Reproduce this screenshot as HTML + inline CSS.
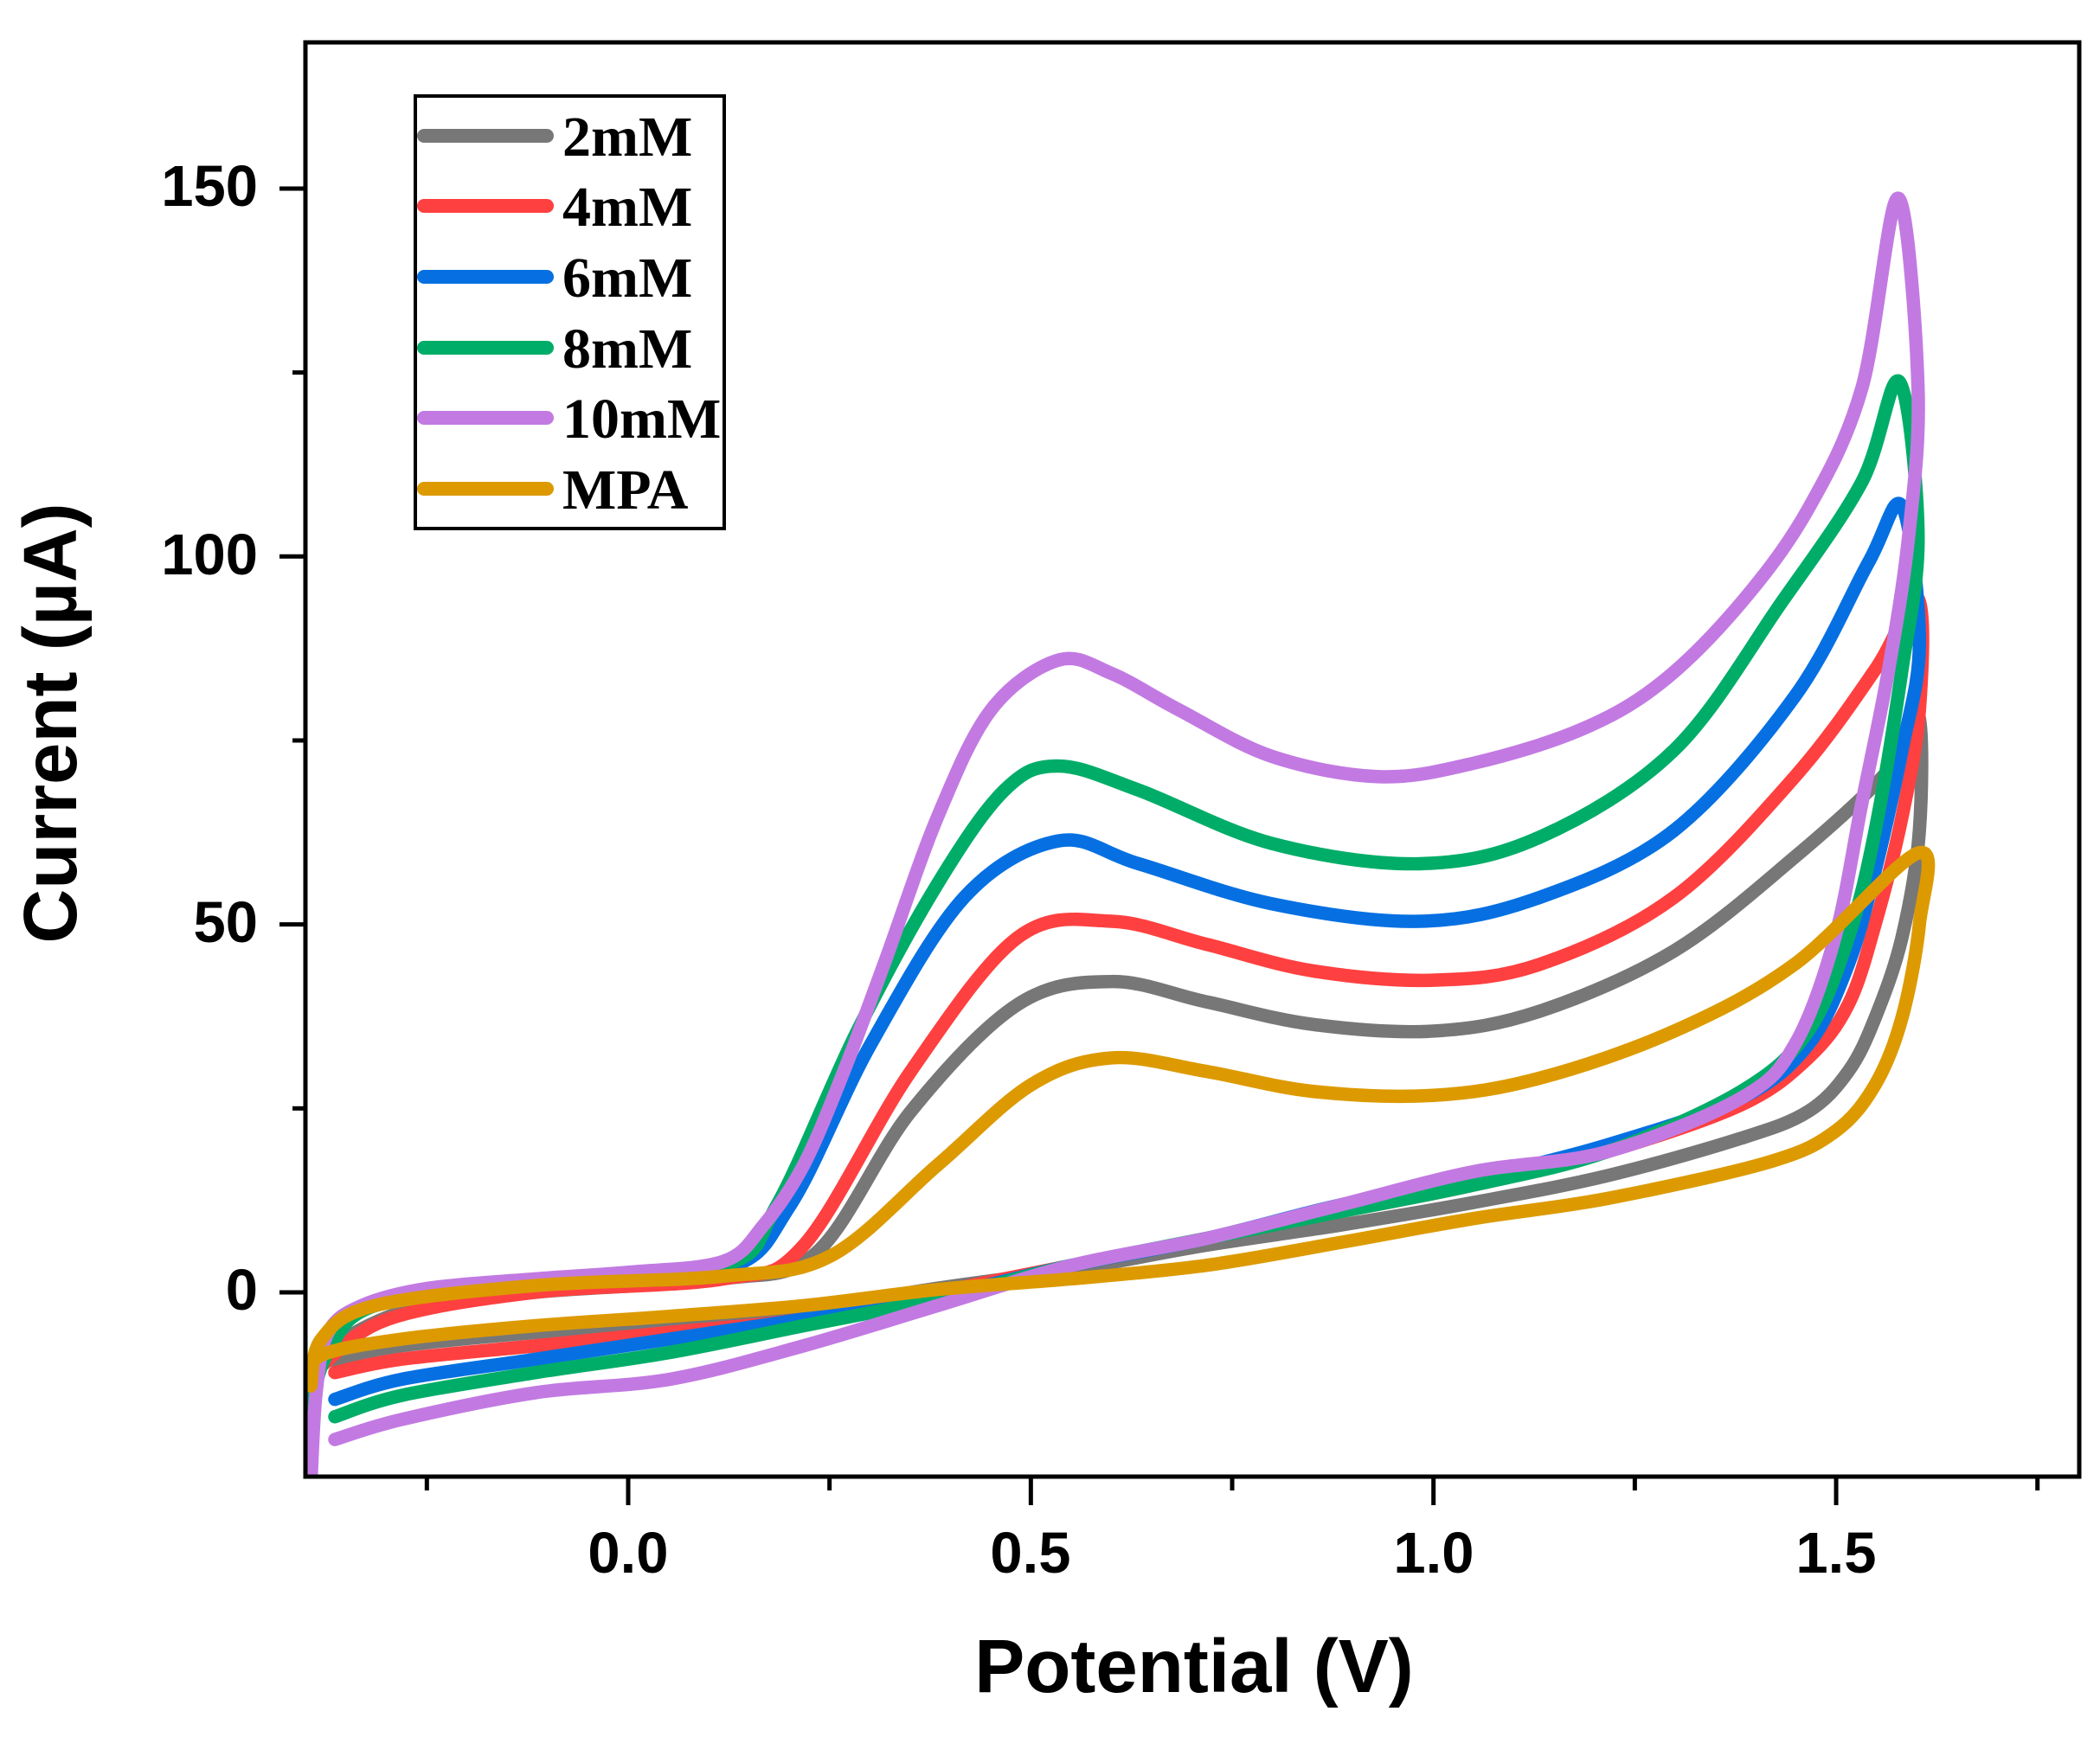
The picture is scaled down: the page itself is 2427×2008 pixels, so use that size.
<!DOCTYPE html>
<html><head><meta charset="utf-8"><style>
html,body{margin:0;padding:0;background:#fff}
svg{display:block}
.t{font-family:"Liberation Sans",Arial,sans-serif;font-weight:bold;fill:#000}
.l{font-family:"Liberation Serif","Times New Roman",serif;font-weight:bold;fill:#000;font-size:66px}
</style></head><body>
<svg id="s" width="2427" height="2008" viewBox="0 0 2427 2008" xmlns="http://www.w3.org/2000/svg">
<defs><clipPath id="c"><rect x="353" y="49" width="2050" height="1658"/></clipPath></defs>
<g id="curves" clip-path="url(#c)"><g id="cg" transform="scale(1.548)"></g></g>
<rect x="353" y="49" width="2050" height="1658" fill="none" stroke="#000" stroke-width="5"/>
<g stroke="#000" stroke-width="5" id="ticks"></g>
<g class="t" font-size="67" text-anchor="end">
<text x="298" y="238">150</text>
<text x="298" y="664">100</text>
<text x="298" y="1089">50</text>
<text x="298" y="1514">0</text>
</g>
<g class="t" font-size="67" text-anchor="middle">
<text x="726" y="1818">0.0</text>
<text x="1191" y="1818">0.5</text>
<text x="1657" y="1818">1.0</text>
<text x="2122" y="1818">1.5</text>
</g>
<text class="t" font-size="87" text-anchor="middle" x="1380" y="1956">Potential (V)</text>
<text class="t" font-size="87" text-anchor="middle" transform="translate(88,836) rotate(-90)">Current (µA)</text>
<rect x="480" y="111" width="357" height="500" fill="#fff" stroke="#000" stroke-width="4"/>
<g stroke-width="16" stroke-linecap="round">
<line x1="490" y1="157" x2="632" y2="157" stroke="#777777"/>
<line x1="490" y1="238" x2="632" y2="238" stroke="#ff4040"/>
<line x1="490" y1="320" x2="632" y2="320" stroke="#0670e2"/>
<line x1="490" y1="402" x2="632" y2="402" stroke="#00ad68"/>
<line x1="490" y1="483" x2="632" y2="483" stroke="#c27ae2"/>
<line x1="490" y1="565" x2="632" y2="565" stroke="#dc9a00"/>
</g>
<g class="l">
<text x="650" y="180">2mM</text>
<text x="650" y="261">4mM</text>
<text x="650" y="343">6mM</text>
<text x="650" y="425">8mM</text>
<text x="650" y="506">10mM</text>
<text x="650" y="588">MPA</text>
</g>
</svg>
<script>
var ns="http://www.w3.org/2000/svg";
var tk=document.getElementById("ticks");
function ln(x1,y1,x2,y2){var l=document.createElementNS(ns,"line");l.setAttribute("x1",x1);l.setAttribute("y1",y1);l.setAttribute("x2",x2);l.setAttribute("y2",y2);tk.appendChild(l);}
for(var i=-1;i<=7;i++){var v=i*0.25;var x=726+930.7*v;if(x<355||x>2400)continue;ln(x,1707,x,(i%2==0)?1740:1723);}
for(var i=-1;i<=6;i++){var v=i*25;var y=1494-8.507*v;if(y>1705||y<50)continue;ln(353,y,(i%2==0)?323:338,y);}
var S=[
["#777777",[[240,1010],[300,980],[400,965],[540,955],[610,935],[680,830],[760,750],[830,733],[900,748],[980,765],[1070,770],[1150,755],[1250,710],[1340,640],[1410,575],[1432,533],[1433,620],[1420,700],[1400,760],[1380,800],[1350,830],[1300,850],[1200,878],[1100,898],[1000,915],[900,930],[800,948],[700,962],[600,978],[500,988],[400,995],[300,1005],[250,1015],[232,1020]]],
["#ff4040",[[232,1030],[240,1020],[290,985],[400,965],[540,955],[600,930],[680,800],[760,700],[830,688],[900,705],[980,725],[1070,732],[1150,720],[1250,670],[1340,580],[1400,500],[1432,447],[1433,530],[1420,610],[1400,690],[1380,750],[1350,790],[1300,825],[1200,860],[1100,885],[1000,905],[900,925],[800,945],[700,965],[600,985],[500,995],[400,1005],[300,1015],[250,1025]]],
["#0670e2",[[232,1040],[245,1000],[285,972],[400,958],[540,948],[590,900],[650,780],[720,670],[790,628],[850,645],[950,675],[1060,688],[1150,670],[1250,620],[1340,520],[1395,420],[1420,378],[1433,480],[1420,560],[1400,650],[1380,720],[1350,780],[1300,820],[1200,855],[1100,880],[1000,900],[900,925],[800,945],[700,968],[600,985],[500,1000],[400,1015],[300,1030],[250,1045]]],
["#00ad68",[[232,1050],[245,1010],[280,975],[400,958],[540,945],[580,900],[640,770],[700,660],[750,590],[790,572],[850,590],[950,630],[1060,645],[1150,625],[1250,560],[1330,450],[1390,360],[1418,285],[1432,400],[1420,500],[1400,620],[1380,700],[1350,770],[1300,815],[1200,860],[1100,885],[1000,905],[900,925],[800,945],[700,970],[600,990],[500,1010],[400,1025],[300,1042],[250,1058]]],
["#c27ae2",[[232,1110],[236,1040],[245,995],[270,975],[320,962],[400,955],[470,950],[540,942],[570,915],[600,870],[630,800],[660,720],[700,610],[740,530],[790,493],[830,503],[880,530],[950,565],[1030,580],[1100,570],[1180,545],[1240,510],[1300,450],[1350,380],[1390,290],[1417,148],[1432,290],[1425,400],[1410,500],[1390,600],[1370,700],[1340,780],[1300,820],[1200,860],[1100,875],[1000,900],[900,925],[800,945],[700,975],[600,1005],[500,1030],[400,1040],[300,1060],[250,1075]]],
["#dc9a00",[[232,1035],[240,1000],[280,975],[400,960],[540,953],[620,938],[700,870],[770,810],[830,790],[900,800],[980,815],[1070,818],[1150,805],[1250,770],[1340,720],[1432,637],[1433,690],[1420,760],[1400,810],[1370,845],[1320,868],[1200,895],[1100,910],[1000,928],[900,945],[800,955],[700,963],[600,975],[500,983],[400,990],[300,1000],[240,1012],[232,1030]]]
];
var cg=document.getElementById("cg");
S.forEach(function(s){var p=s[1];var d="M"+p[0][0]+","+p[0][1];
for(var i=0;i<p.length-1;i++){var a=p[i-1]||p[i],b=p[i],c=p[i+1],e=p[i+2]||c;
d+=" C"+(b[0]+(c[0]-a[0])/6)+","+(b[1]+(c[1]-a[1])/6)+" "+(c[0]-(e[0]-b[0])/6)+","+(c[1]-(e[1]-b[1])/6)+" "+c[0]+","+c[1];}
var pa=document.createElementNS(ns,"path");pa.setAttribute("d",d);pa.setAttribute("fill","none");pa.setAttribute("stroke",s[0]);pa.setAttribute("stroke-width","10");pa.setAttribute("stroke-linejoin","round");pa.setAttribute("stroke-linecap","round");cg.appendChild(pa);});
</script>
</body></html>
